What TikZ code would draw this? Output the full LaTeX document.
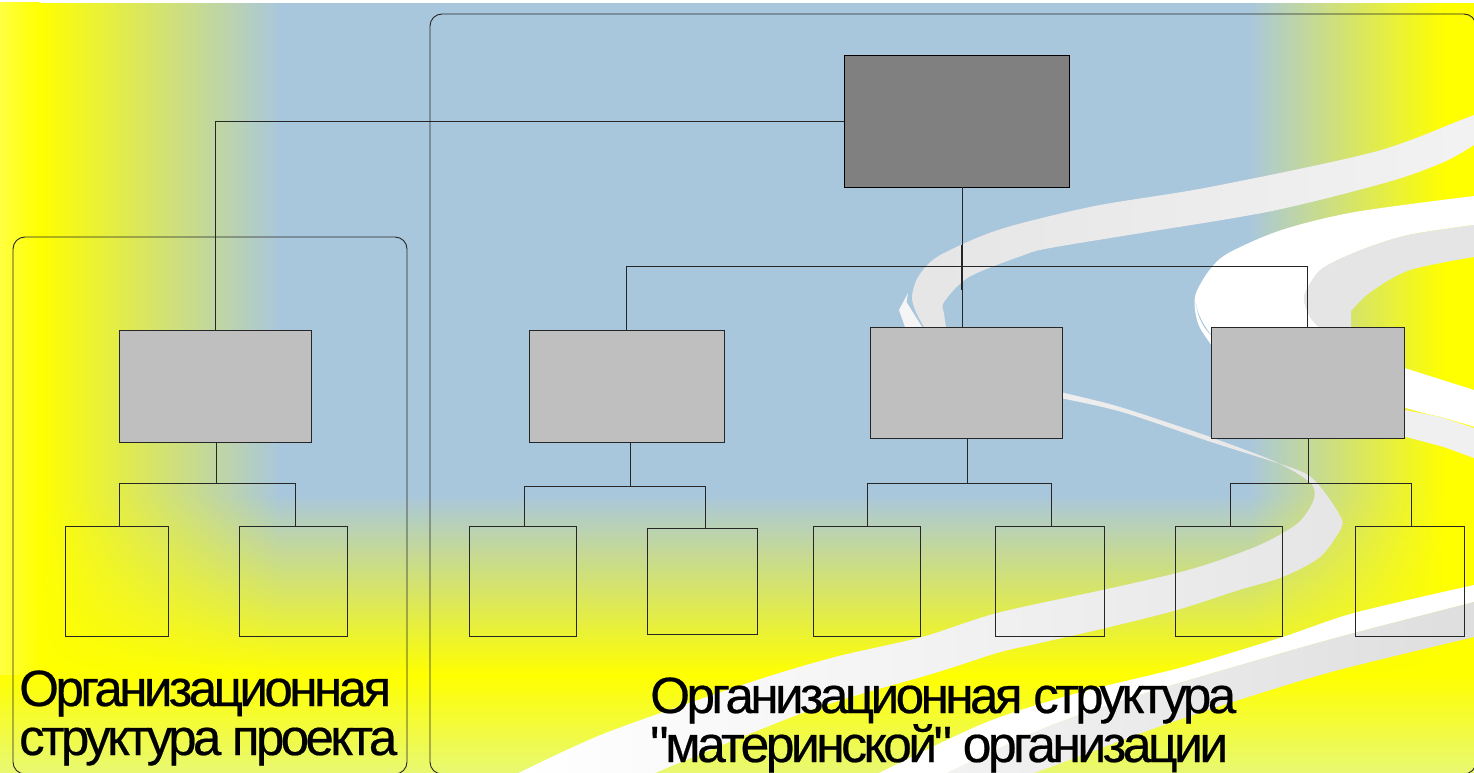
\documentclass[tikz,border=0pt]{standalone}
\usepackage{fontspec}
\usepackage{graphicx}
\setmainfont{Liberation Sans}
\newfontfamily\lblfont[LetterSpace=-7,FakeBold=0.4]{Liberation Sans}
\definecolor{blu}{HTML}{A9C7DC}
\definecolor{pale}{HTML}{E8F872}
\definecolor{edgey}{HTML}{FFFF40}
\definecolor{yel}{HTML}{FFFF00}
\tikzset{
  topbox/.style={draw=black,fill=black!50,line width=0.9pt,inner sep=0pt},
  midbox/.style={draw=black!85,fill=black!25,line width=0.9pt,inner sep=0pt},
  leaf/.style={draw=black!85,fill=none,line width=0.8pt,inner sep=0pt},
  conn/.style={draw=black!85,line width=0.8pt},
  groupbox/.style={draw=black!85,line width=0.9pt,rounded corners=12pt},
  lbl/.style={anchor=base west,inner sep=0pt,font=\lblfont\fontsize{51}{51}\selectfont}
}
\begin{document}
\begin{tikzpicture}[x=1pt,y=-1pt]
\useasboundingbox (0,0) rectangle (1474,773);
\fill[white] (0,0) rectangle (1474,773);
% background
\fill[yel] (0,3) rectangle (1474,773);
\shade[left color=edgey,right color=yel] (0,3) rectangle (40,675);
\foreach \i in {0,...,79} {
  \pgfmathsetmacro\xa{40+\i*3}
  \pgfmathsetmacro\tt{(\i+0.5)/80*100}
  \colorlet{cc}{blu!\tt!yel}
  \fill[cc] (\xa,3) rectangle (\xa+4,495);
  \shade[top color=cc,bottom color=yel] (\xa,495) rectangle (\xa+4,675);
}
\fill[blu] (278,3) rectangle (1251,495);
\shade[top color=blu,bottom color=yel] (278,495) rectangle (1251,675);
\foreach \i in {0,...,64} {
  \pgfmathsetmacro\xa{1250+\i*3}
  \pgfmathsetmacro\tt{100-(\i+0.5)/65*100}
  \colorlet{cc}{blu!\tt!yel}
  \fill[cc] (\xa,3) rectangle (\xa+4,495);
  \shade[top color=cc,bottom color=yel] (\xa,495) rectangle (\xa+4,675);
}
\shade[top color=yel,bottom color=pale] (0,675) rectangle (1474,773);
% ribbons
\fill[white!96!black] (908,293) -- (899,310) -- (905,327) -- (922,327) -- (906.5,302) -- cycle;
\shade[left color=black!10,right color=black!5]
  plot[smooth] coordinates {(1474,115) (1461,120) (1374,152) (1210,187) (1100,205) (1026,222) (984,235) (937,257) (918,277) (912,297) (916,312) (924,327)}
  -- plot[smooth] coordinates {(946,327) (944,313) (944,302) (969,277) (1024,255) (1050,248) (1141,233) (1272,211) (1388,182) (1444,162) (1474,145)} -- cycle;
% big white ribbon
\fill[white]
  plot[smooth] coordinates {(1474,196) (1355,212) (1281.5,230) (1228.5,253) (1209.5,270) (1196,293) (1195,310) (1200,328) (1215,350)}
  -- (1330,350)
  -- plot[smooth] coordinates {(1319,327) (1310,317) (1304,300) (1308,287) (1323,268) (1361,250) (1408,235) (1474,225)} -- cycle;
\fill[blu] (1195.5,302) .. controls (1198,318) and (1203,328) .. (1212,336) .. controls (1204,326) and (1198,316) .. (1195.5,302) -- cycle;
\shade[left color=black!10,right color=black!10]
  plot[smooth] coordinates {(1474,225) (1408,235) (1361,250) (1323,268) (1308,287) (1304,300) (1310,317) (1319,327)}
  -- (1351,327)
  -- plot[smooth] coordinates {(1351,311) (1370.5,292) (1410,270) (1474,257)} -- cycle;
\fill[white] (1395,365) -- (1474,390) -- (1474,427) -- (1395,405) -- cycle;
\draw[yel,line width=0.5pt] (1405,410) -- (1440,417) -- (1474,427);
\fill[white!94!black] (1395,408) -- (1440,417) -- (1474,428) -- (1474,458) -- (1444,447) -- (1395,434) -- cycle;
% long S ribbon
\shade[left color=white,right color=black!10]
  plot[smooth] coordinates {(1060,392) (1115,405.5) (1175,425) (1213,438) (1276,462) (1310.6,483) (1313.6,500) (1298,523) (1264,543) (1220,560) (1177,573) (1102.5,590) (997,613) (922,637) (835,657) (748,683) (605.6,733) (518.6,773)}
  -- plot[smooth] coordinates {(655,773) (810.5,710) (935,673) (997,653) (1040,643) (1105.6,628) (1177,610) (1239,590) (1282.6,577) (1320,557) (1341.6,527) (1338.5,513) (1317,483) (1295,469) (1211,442) (1122,412) (1060,398)} -- cycle;
% bottom ribbons
\fill[white]
  plot[smooth] coordinates {(1474,585) (1354,613) (1282.6,637) (1183,667) (1077.6,693) (984.5,723) (879,773)}
  -- plot[smooth] coordinates {(947,773) (1046.6,727) (1146,693) (1282,653) (1354,633) (1474,602)} -- cycle;
\shade[left color=black!5,right color=black!13]
  plot[smooth] coordinates {(1474,602) (1354,633) (1282,653) (1146,693) (1046.6,727) (947,773)}
  -- plot[smooth] coordinates {(1034,773) (1077.6,757) (1158,727) (1245,698) (1338.5,670) (1474,637)} -- cycle;
% groups
\node[groupbox,minimum width=394pt,minimum height=537pt,inner sep=0pt] (gleft) at (210,505.5) {};
\node[groupbox,minimum width=1046pt,minimum height=760pt,inner sep=0pt] (gright) at (953,394) {};
% boxes
\node[topbox,minimum width=225pt,minimum height=132pt] (dark) at (956.5,121) {};
\node[midbox,minimum width=192.4pt,minimum height=112pt] (A) at (215.3,386) {};
\node[midbox,minimum width=195pt,minimum height=112pt] (B) at (626.5,386) {};
\node[midbox,minimum width=192.4pt,minimum height=111pt] (C) at (966.3,382.5) {};
\node[midbox,minimum width=193.4pt,minimum height=111pt] (D) at (1307.8,382.5) {};
\node[leaf,minimum width=103.4pt,minimum height=110pt] (s1) at (117,581) {};
\node[leaf,minimum width=108.4pt,minimum height=110pt] (s2) at (293.5,581) {};
\node[leaf,minimum width=107.4pt,minimum height=110pt] (s3) at (523,581) {};
\node[leaf,minimum width=110.4pt,minimum height=106pt] (s4) at (702.5,581) {};
\node[leaf,minimum width=107.4pt,minimum height=110pt] (s5) at (867,581) {};
\node[leaf,minimum width=109.4pt,minimum height=110pt] (s6) at (1050,581) {};
\node[leaf,minimum width=107.4pt,minimum height=110pt] (s7) at (1229,581) {};
\node[leaf,minimum width=109.4pt,minimum height=110pt] (s8) at (1410,581) {};
% connectors
\draw[conn] (dark.west) -| (A.north);
\coordinate (j) at (962,266);
\coordinate (jt) at (961.5,245);
\coordinate (jb) at (961.5,290);
\draw[conn] (dark.south -| j) -- (C.north -| j);
\draw[conn,line width=1.5pt] (jt) -- (jb);
\draw[conn] (B.north) |- (j);
\draw[conn] (j) -| (D.north);
\coordinate (ja) at (216,483); \coordinate (ja1) at (119,483); \coordinate (ja2) at (295,483);
\draw[conn] (A.south -| ja) -- (ja);
\draw[conn] (s1.north -| ja1) -- (ja1) -- (ja2) -- (s2.north -| ja2);
\coordinate (jb0) at (630,486); \coordinate (jb1) at (524,486); \coordinate (jb2) at (705,486);
\draw[conn] (B.south -| jb0) -- (jb0);
\draw[conn] (s3.north -| jb1) -- (jb1) -- (jb2) -- (s4.north -| jb2);
\coordinate (jc) at (967,483); \coordinate (jc1) at (867,483); \coordinate (jc2) at (1051,483);
\draw[conn] (C.south -| jc) -- (jc);
\draw[conn] (s5.north -| jc1) -- (jc1) -- (jc2) -- (s6.north -| jc2);
\coordinate (jd) at (1308,483); \coordinate (jd1) at (1230,483); \coordinate (jd2) at (1411,483);
\draw[conn] (D.south -| jd) -- (jd);
\draw[conn] (s7.north -| jd1) -- (jd1) -- (jd2) -- (s8.north -| jd2);
% labels
\node[lbl] (t1) at (19,706) {\resizebox{372pt}{\height}{Организационная}};
\node[lbl] (t2) at (19,755) {\resizebox{378pt}{\height}{структура проекта}};
\node[lbl] (t3) at (650,713) {\resizebox{586pt}{\height}{Организационная структура}};
\node[lbl] (t4) at (650,762) {\resizebox{578pt}{\height}{"материнской" организации}};
\end{tikzpicture}
\end{document}
